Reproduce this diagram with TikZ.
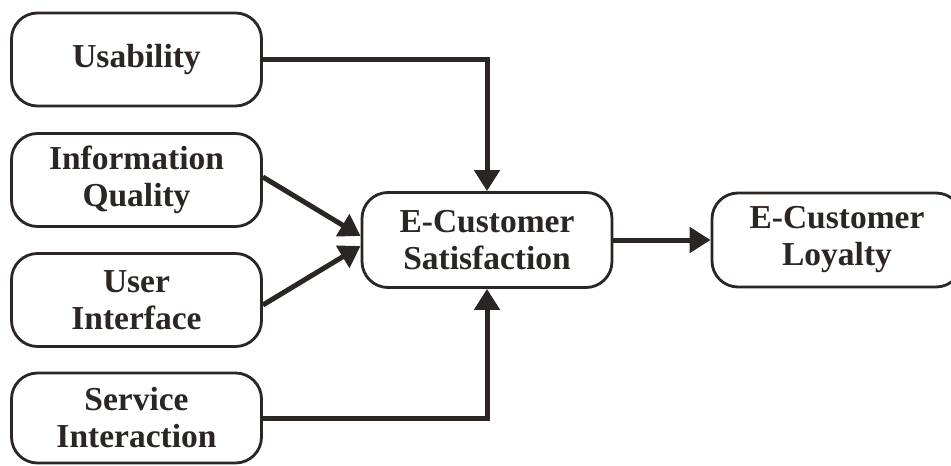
\documentclass[tikz,border=0pt]{standalone}
\usepackage{fontspec}
\setmainfont{Liberation Serif}
\usetikzlibrary{arrows.meta}
\definecolor{ink}{HTML}{2B2523}
\begin{document}
\begin{tikzpicture}[x=1pt,y=-1pt,
  box/.style={draw=ink, line width=2.8pt, rounded corners=26pt, fill=white,
    minimum width=250pt, minimum height=93pt, align=center, inner sep=0pt,
    font=\fontsize{33.5}{37}\selectfont\bfseries, text=ink},
  conn/.style={draw=ink, line width=5pt, -{Triangle[length=21pt,width=25pt]}}]
\useasboundingbox (0,0) rectangle (951,466);
\node[box] (us) at (136.5,59.5) {Usability};
\node[box] (iq) at (136.5,180) {Information\\Quality};
\node[box] (ui) at (136.5,300) {User\\Interface};
\node[box, minimum height=90pt] (si) at (136.5,418) {Service\\Interaction};
\node[box, minimum height=95pt] (cs) at (487,240) {E-Customer\\Satisfaction};
\node[box, minimum width=250pt, minimum height=94pt] (cl) at (837,240) {E-Customer\\Loyalty};
\draw[conn] (us.east) -| (cs.north);
\draw[conn] (si.east) -| (cs.south);
\draw[conn] (iq.east |- 0,177) -- (cs.west |- 0,236);
\draw[conn] (ui.east |- 0,305) -- (cs.west |- 0,246);
\draw[conn] (cs.east) -- (cl.west);
\end{tikzpicture}
\end{document}
